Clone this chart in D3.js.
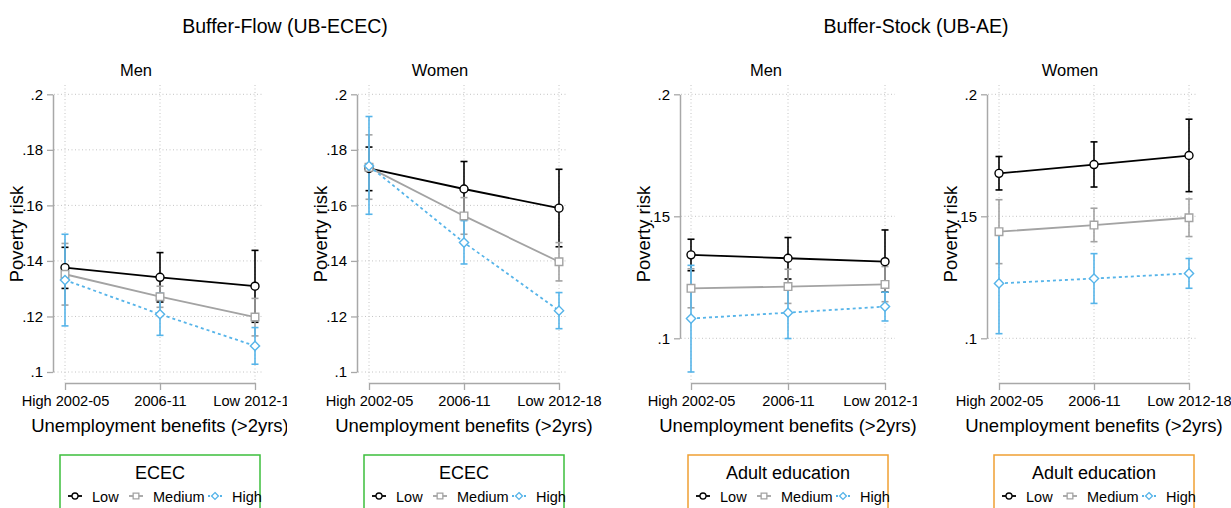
<!DOCTYPE html>
<html><head><meta charset="utf-8">
<script src="https://cdn.jsdelivr.net/npm/d3@7"></script>
<style>
body{margin:0;background:#fff}
svg{display:block;font-family:"Liberation Sans",Arial,Helvetica,sans-serif}
</style>
</head><body>
<svg id="c" width="1231" height="508"></svg>
<script>
// ---------- data ----------
const categories = ["High 2002-05", "2006-11", "Low 2012-18"];
const seriesNames = ["Low", "Medium", "High"];
const groupTitles = ["Buffer-Flow (UB-ECEC)", "Buffer-Stock (UB-AE)"];
const panelTitles = ["Men", "Women", "Men", "Women"];
const legendTitles = ["ECEC", "ECEC", "Adult education", "Adult education"];
const xTitle = "Unemployment benefits (>2yrs)";
const yTitle = "Poverty risk";
const yTicksECEC = [0.1, 0.12, 0.14, 0.16, 0.18, 0.2];
const yTicksAE = [0.1, 0.15, 0.2];

// Buffer-Flow, Men
const ececMenLow    = [0.1376, 0.1341, 0.1309];
const ececMenLowCI  = [[0.1301, 0.1449], [0.1252, 0.1430], [0.1179, 0.1438]];
const ececMenMed    = [0.1352, 0.1271, 0.1198];
const ececMenMedCI  = [[0.1241, 0.1463], [0.1233, 0.1309], [0.1130, 0.1265]];
const ececMenHigh   = [0.1331, 0.1208, 0.1094];
const ececMenHighCI = [[0.1166, 0.1496], [0.1132, 0.1284], [0.1028, 0.1160]];
// Buffer-Flow, Women
const ececWomLow    = [0.1733, 0.1659, 0.1590];
const ececWomLowCI  = [[0.1653, 0.1810], [0.1559, 0.1758], [0.1451, 0.1730]];
const ececWomMed    = [0.1737, 0.1562, 0.1397];
const ececWomMedCI  = [[0.1622, 0.1854], [0.1496, 0.1628], [0.1328, 0.1466]];
const ececWomHigh   = [0.1742, 0.1466, 0.1221];
const ececWomHighCI = [[0.1568, 0.1920], [0.1389, 0.1545], [0.1156, 0.1286]];
// Buffer-Stock, Men
const aeMenLow      = [0.1342, 0.1328, 0.1314];
const aeMenLowCI    = [[0.1277, 0.1406], [0.1243, 0.1413], [0.1189, 0.1444]];
const aeMenMed      = [0.1205, 0.1212, 0.1221];
const aeMenMedCI    = [[0.1125, 0.1285], [0.1143, 0.1283], [0.1150, 0.1294]];
const aeMenHigh     = [0.1081, 0.1105, 0.1130];
const aeMenHighCI   = [[0.0862, 0.1299], [0.0999, 0.1214], [0.1071, 0.1189]];
// Buffer-Stock, Women
const aeWomLow      = [0.1676, 0.1712, 0.1749];
const aeWomLowCI    = [[0.1608, 0.1745], [0.1620, 0.1805], [0.1601, 0.1898]];
const aeWomMed      = [0.1437, 0.1464, 0.1494];
const aeWomMedCI    = [[0.1306, 0.1568], [0.1396, 0.1533], [0.1417, 0.1571]];
const aeWomHigh     = [0.1225, 0.1245, 0.1266];
const aeWomHighCI   = [[0.1019, 0.1426], [0.1143, 0.1347], [0.1205, 0.1327]];

// ---------- layout / style ----------
const C_BLUE = "#56b4e9", C_GRAY = "#a3a3a3", C_BLACK = "#000000";
const AXIS = "#a8a8a8", GRID = "#c4c4c4";
const seriesStyle = [
  {color: C_BLACK, dash: null, shape: "circle"},
  {color: C_GRAY,  dash: null, shape: "square"},
  {color: C_BLUE,  dash: "3,3", shape: "diamond"}
];
const panels = [
  {axisX: 53,  xr: [65, 255],   right: 264,  clip: [0, 287],    y01: 372,   ticks: yTicksECEC, title: 136,  legendColor: "#3cbf3c",
   vals: [ececMenLow, ececMenMed, ececMenHigh], cis: [ececMenLowCI, ececMenMedCI, ececMenHighCI]},
  {axisX: 357, xr: [369, 559],  right: 568,  clip: [290, 615],  y01: 372,   ticks: yTicksECEC, title: 440,  legendColor: "#3cbf3c",
   vals: [ececWomLow, ececWomMed, ececWomHigh], cis: [ececWomLowCI, ececWomMedCI, ececWomHighCI]},
  {axisX: 680, xr: [691, 885],  right: 895,  clip: [615, 917],  y01: 338.3, ticks: yTicksAE,   title: 766,  legendColor: "#f0a033",
   vals: [aeMenLow, aeMenMed, aeMenHigh], cis: [aeMenLowCI, aeMenMedCI, aeMenHighCI]},
  {axisX: 987, xr: [999, 1189], right: 1198, clip: [920, 1231], y01: 338.3, ticks: yTicksAE,   title: 1070, legendColor: "#f0a033",
   vals: [aeWomLow, aeWomMed, aeWomHigh], cis: [aeWomLowCI, aeWomMedCI, aeWomHighCI]}
];
const Y_TOP = 94.3, PLOT_TOP = 85, X_AXIS_Y = 383;

const svg = d3.select("#c");
const fmt = v => d3.format("")(+v.toFixed(3)).replace(/^0\./, ".");

function markerPath(shape, r) {
  if (shape === "circle") return d3.symbol(d3.symbolCircle, Math.PI * r * r)();
  if (shape === "square") { const s = r * 0.95; return `M${-s},${-s}H${s}V${s}H${-s}Z`; }
  const d = r * 1.15; return `M0,${-d}L${d},0L0,${d}L${-d},0Z`;
}

// group titles
svg.append("text").attr("x", 285).attr("y", 33).attr("text-anchor", "middle")
  .attr("font-size", 19.5).text(groupTitles[0]);
svg.append("text").attr("x", 916).attr("y", 33).attr("text-anchor", "middle")
  .attr("font-size", 19.5).text(groupTitles[1]);

panels.forEach((p, pi) => {
  const id = "clip" + pi;
  svg.append("clipPath").attr("id", id).append("rect")
    .attr("x", p.clip[0]).attr("y", 0).attr("width", p.clip[1] - p.clip[0]).attr("height", 508);
  const g = svg.append("g").attr("clip-path", `url(#${id})`);

  const x = d3.scalePoint().domain(categories).range(p.xr);
  const y = d3.scaleLinear().domain([0.1, 0.2]).range([p.y01, Y_TOP]);

  // panel title
  g.append("text").attr("x", p.title).attr("y", 76).attr("text-anchor", "middle")
    .attr("font-size", 16.5).text(panelTitles[pi]);

  // grid
  g.append("g").selectAll("line").data(p.ticks).join("line")
    .attr("x1", p.axisX + 1).attr("x2", p.right).attr("y1", d => y(d)).attr("y2", d => y(d))
    .attr("stroke", GRID).attr("stroke-width", 1).attr("stroke-dasharray", "1,2.5");
  g.append("g").selectAll("line").data(categories).join("line")
    .attr("x1", d => x(d)).attr("x2", d => x(d)).attr("y1", PLOT_TOP).attr("y2", X_AXIS_Y)
    .attr("stroke", GRID).attr("stroke-width", 1).attr("stroke-dasharray", "1,2.5");

  // y axis
  const ya = g.append("g").attr("transform", `translate(${p.axisX},0)`)
    .call(d3.axisLeft(y).tickValues(p.ticks).tickFormat(fmt).tickSize(6).tickPadding(4).tickSizeOuter(0));
  ya.select(".domain").attr("stroke", AXIS).attr("stroke-width", 1.5);
  ya.selectAll(".tick line").attr("stroke", AXIS).attr("stroke-width", 1.3);
  ya.selectAll(".tick text").attr("font-size", 15).attr("fill", "#000")
    .attr("font-family", "Liberation Sans, Arial, sans-serif");

  // x axis
  const xa = g.append("g").attr("transform", `translate(0,${X_AXIS_Y})`)
    .call(d3.axisBottom(x).tickSize(7).tickPadding(6).tickSizeOuter(0));
  xa.select(".domain").attr("stroke", AXIS).attr("stroke-width", 1.5);
  xa.selectAll(".tick line").attr("stroke", AXIS).attr("stroke-width", 1.3);
  xa.selectAll(".tick text").attr("font-size", 14.6).attr("fill", "#000")
    .attr("font-family", "Liberation Sans, Arial, sans-serif");

  // axis titles
  g.append("text").attr("x", (p.xr[0] + p.xr[1]) / 2).attr("y", 432).attr("text-anchor", "middle")
    .attr("font-size", 18.5).text(xTitle);
  g.append("text").attr("transform", `translate(${p.axisX - 30},234) rotate(-90)`)
    .attr("text-anchor", "middle").attr("font-size", 18.5).text(yTitle);

  // CIs
  p.cis.forEach((ci, si) => {
    const st = seriesStyle[si];
    const cg = g.append("g").attr("stroke", st.color).attr("stroke-width", 1.6).attr("fill", "none");
    ci.forEach((d, i) => {
      const cx = x(categories[i]);
      cg.append("line").attr("x1", cx).attr("x2", cx).attr("y1", y(d[0])).attr("y2", y(d[1]));
      cg.append("line").attr("x1", cx - 3.5).attr("x2", cx + 3.5).attr("y1", y(d[0])).attr("y2", y(d[0]));
      cg.append("line").attr("x1", cx - 3.5).attr("x2", cx + 3.5).attr("y1", y(d[1])).attr("y2", y(d[1]));
    });
  });

  // lines + markers
  p.vals.forEach((vals, si) => {
    const st = seriesStyle[si];
    const line = d3.line().x((d, i) => x(categories[i])).y(d => y(d));
    g.append("path").datum(vals).attr("d", line).attr("fill", "none")
      .attr("stroke", st.color).attr("stroke-width", 1.8)
      .attr("stroke-dasharray", st.dash);
    g.append("g").selectAll("path").data(vals).join("path")
      .attr("transform", (d, i) => `translate(${x(categories[i])},${y(d)})`)
      .attr("d", markerPath(st.shape, 4)).attr("fill", "#fff")
      .attr("stroke", st.color).attr("stroke-width", 1.4);
  });

  // legend
  const cx = (p.xr[0] + p.xr[1]) / 2;
  const left = cx - 100;
  const lg = g.append("g");
  lg.append("rect").attr("x", left).attr("y", 455).attr("width", 200).attr("height", 70)
    .attr("fill", "#fff").attr("stroke", p.legendColor).attr("stroke-width", 1.5);
  lg.append("text").attr("x", cx).attr("y", 478.5).attr("text-anchor", "middle")
    .attr("font-size", 18).text(legendTitles[pi]);
  const mk = [15, 76, 155], tx = [32, 93, 172];
  seriesNames.forEach((name, si) => {
    const st = seriesStyle[si];
    const mx = left + mk[si];
    lg.append("line").attr("x1", mx - 7).attr("x2", mx + 7).attr("y1", 496).attr("y2", 496)
      .attr("stroke", st.color).attr("stroke-width", 1.8).attr("stroke-dasharray", st.dash ? "2,2" : null);
    lg.append("path").attr("transform", `translate(${mx},496)`).attr("d", markerPath(st.shape, 3))
      .attr("fill", "#fff").attr("stroke", st.color).attr("stroke-width", 1.3);
    lg.append("text").attr("x", left + tx[si]).attr("y", 501.5).attr("font-size", 14.5).text(name);
  });
});
</script>
</body></html>
